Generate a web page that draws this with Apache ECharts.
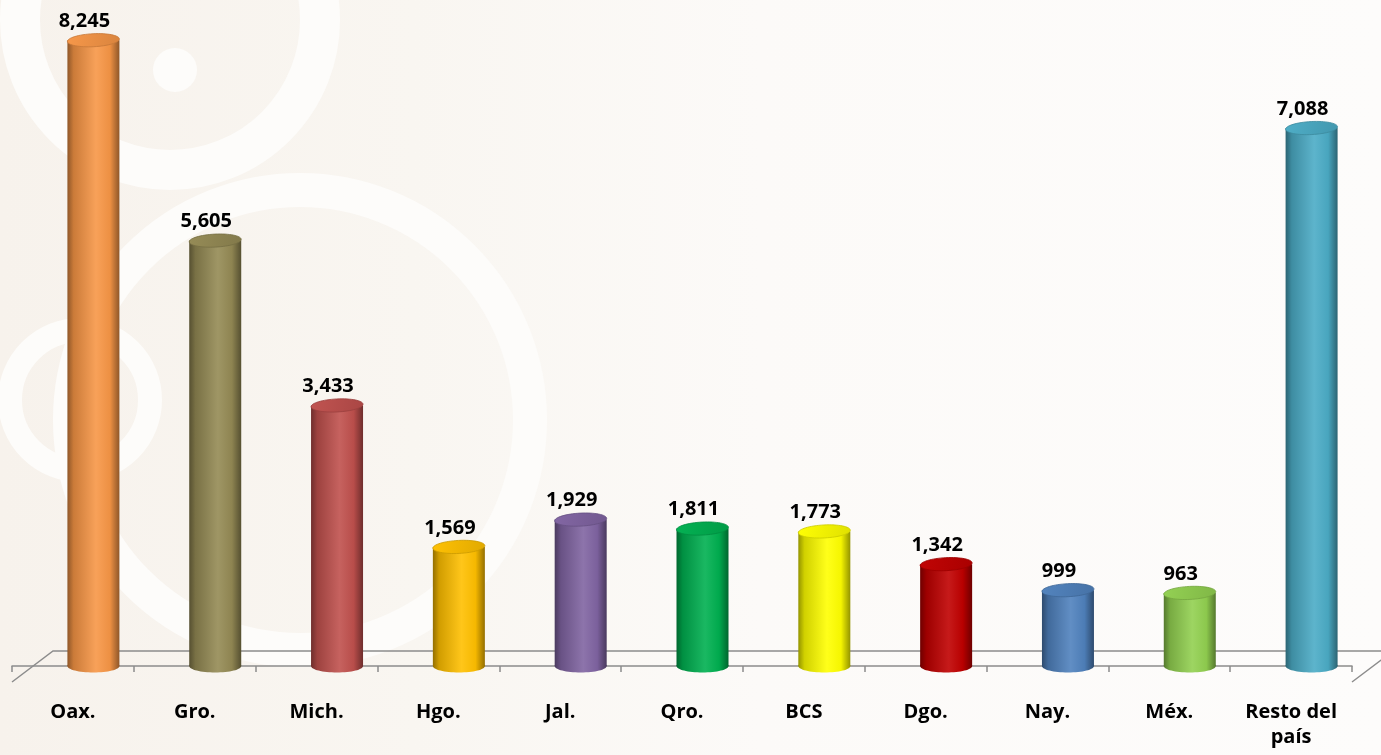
<!DOCTYPE html>
<html>
<head>
<meta charset="utf-8">
<script src="https://cdn.jsdelivr.net/npm/echarts@6/dist/echarts.min.js"></script>
<style>
html,body{margin:0;padding:0;background:#fcfaf8;}
#chart{width:1381px;height:755px;}
</style>
</head>
<body>
<div id="chart"></div>
<script>
var categories = ['Oax.', 'Gro.', 'Mich.', 'Hgo.', 'Jal.', 'Qro.', 'BCS', 'Dgo.', 'Nay.', 'Méx.', 'Resto del\npaís'];
var values = [8245, 5605, 3433, 1569, 1929, 1811, 1773, 1342, 999, 963, 7088];
var colors = ['#F79646', '#948A54', '#C0504D', '#FFC000', '#8064A2', '#00B050', '#FFFF00', '#C00000', '#4F81BD', '#92D050', '#4BACC6'];

var GRID_LEFT = 12, GRID_RIGHT = 29, GRID_TOP = 0, GRID_BOTTOM = 89;
var DEPTH_X = 41, DEPTH_Y = -31;  // floor depth
var AXIS_OFFSET = 16;
var BAR_W = 52, ELL_RY = 6.5;
var FONT = '"Open Sans", "Noto Sans", sans-serif';

function shade(hex, f) {
  var r = parseInt(hex.substr(1,2),16), g = parseInt(hex.substr(3,2),16), b = parseInt(hex.substr(5,2),16);
  function c(v){ v = f < 0 ? v*(1+f) : v + (255-v)*f; return Math.max(0,Math.min(255,Math.round(v))); }
  return 'rgb(' + c(r) + ',' + c(g) + ',' + c(b) + ')';
}
function bodyGrad(col) {
  return new echarts.graphic.LinearGradient(0,0,1,0,[
    {offset:0, color: shade(col,-0.42)},
    {offset:0.12, color: shade(col,-0.18)},
    {offset:0.55, color: shade(col,0.1)},
    {offset:0.82, color: shade(col,-0.04)},
    {offset:1, color: shade(col,-0.42)}
  ]);
}

var chart = echarts.init(document.getElementById('chart'));

function renderBar(params, api) {
  var i = api.value(0), v = api.value(1);
  var top = api.coord([i, v]);
  var base = api.coord([i, 0]);
  var cx = top[0] + DEPTH_X/2;
  var col = colors[params.dataIndex];
  var x0 = cx - BAR_W/2;
  return {
    type: 'group',
    children: [
      { type: 'ellipse', shape: {cx: cx, cy: base[1], rx: BAR_W/2, ry: ELL_RY},
        style: {fill: bodyGrad(col)} },
      { type: 'rect', shape: {x: x0, y: top[1], width: BAR_W, height: base[1]-top[1]},
        style: {fill: bodyGrad(col)} },
      { type: 'ellipse', shape: {cx: 0, cy: 0, rx: BAR_W/2, ry: ELL_RY},
        x: cx, y: top[1], rotation: 0.05,
        style: {fill: new echarts.graphic.LinearGradient(0,0,1,1,[
          {offset:0, color: shade(col,0.02)}, {offset:1, color: shade(col,-0.12)}]),
          stroke: shade(col,-0.2), lineWidth: 0.8} },
      { type: 'text', x: cx - 9, y: top[1] - 9,
        style: {text: api.value(1).toLocaleString('en-US'), fill: '#000', font: 'bold 20px ' + FONT,
          align: 'center', verticalAlign: 'bottom'} }
    ]
  };
}

var W = 1381, H = 755;
var axisY = H - GRID_BOTTOM + AXIS_OFFSET;
var fl = GRID_LEFT, fr = W - GRID_RIGHT;
var WM = '#fdfcfa';

chart.setOption({
  animation: false,
  backgroundColor: new echarts.graphic.LinearGradient(0,0,1,0,[
    {offset:0, color:'#f7f2ec'}, {offset:0.3, color:'#f9f6f1'}, {offset:0.55, color:'#fcfaf8'}, {offset:1, color:'#fdfcfb'}]),
  graphic: [
    {type:'group', silent:true, z:-10, children:[
      {type:'circle', shape:{cx:170, cy:20, r:150}, style:{fill:'none', stroke:WM, lineWidth:40}},
      {type:'circle', shape:{cx:175, cy:70, r:22}, style:{fill:WM}},
      {type:'circle', shape:{cx:300, cy:420, r:230}, style:{fill:'none', stroke:WM, lineWidth:34}},
      {type:'circle', shape:{cx:80, cy:400, r:70}, style:{fill:'none', stroke:WM, lineWidth:24}}
    ]},
    {type:'polyline', silent:true, z:1,
      shape:{points:[[fr, axisY],[fr+DEPTH_X, axisY+DEPTH_Y],[fl+DEPTH_X, axisY+DEPTH_Y],[fl, axisY]]},
      style:{fill:'none', stroke:'#8c8c8c', lineWidth:1.5}}
  ],
  grid: {left: GRID_LEFT, right: GRID_RIGHT, top: GRID_TOP, bottom: GRID_BOTTOM},
  xAxis: {
    type: 'category', data: categories, offset: AXIS_OFFSET,
    axisLine: {lineStyle: {color: '#8c8c8c', width: 1.5}},
    axisTick: {show: true, length: 6, lineStyle: {color: '#8c8c8c', width: 1.5}},
    axisLabel: {interval: 0, color: '#000', fontFamily: FONT, fontWeight: 'bold', fontSize: 20, lineHeight: 25, margin: 18}
  },
  yAxis: {type: 'value', min: 0, max: 8775, show: false, splitLine: {show: false}},
  series: [{
    type: 'custom', renderItem: renderBar, z: 5,
    encode: {x: 0, y: 1},
    data: values.map(function(v, i){ return [i, v]; })
  }]
});
</script>
</body>
</html>
